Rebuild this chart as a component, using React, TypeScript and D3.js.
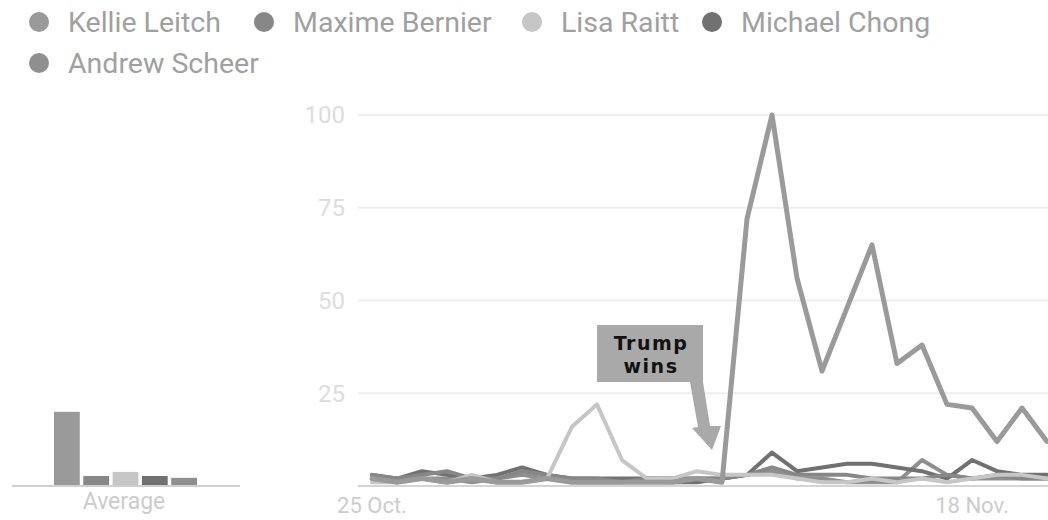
import React from "react";
import * as d3 from "d3";

const candidates = ["Kellie Leitch", "Maxime Bernier", "Lisa Raitt", "Michael Chong", "Andrew Scheer"];
const colors = ["#9a9a9a", "#878787", "#c6c6c6", "#717171", "#8f8f8f"];

const leitch = [2, 1, 2, 1, 2, 1, 1, 2, 1, 1, 1, 1, 1, 2, 1, 72, 100, 56, 31, 48, 65, 33, 38, 22, 21, 12, 21, 12];
const bernier = [3, 2, 3, 4, 2, 2, 4, 3, 2, 2, 1, 2, 2, 2, 2, 3, 5, 3, 3, 3, 2, 2, 2, 3, 2, 3, 2, 2];
const raitt = [1, 1, 2, 1, 3, 1, 1, 2, 16, 22, 7, 2, 2, 4, 3, 3, 3, 2, 1, 1, 2, 1, 2, 1, 2, 3, 3, 2];
const chong = [3, 2, 4, 3, 2, 3, 5, 3, 2, 2, 2, 2, 1, 1, 2, 3, 9, 4, 5, 6, 6, 5, 4, 2, 7, 4, 3, 3];
const scheer = [2, 2, 2, 2, 1, 2, 3, 2, 1, 1, 1, 2, 2, 2, 2, 3, 4, 2, 2, 1, 1, 1, 7, 3, 2, 2, 2, 2];
const series = [leitch, bernier, raitt, chong, scheer];

const averages = [20, 2.7, 3.8, 2.7, 2.2];

const yTicks = [25, 50, 75, 100];
const xTickDates = [new Date(2016, 9, 25), new Date(2016, 10, 18)];
const xTickLabels = ["25 Oct.", "18 Nov."];
const startDate = new Date(2016, 9, 25);

const annotationLines = ["Trump", "wins"];

const legendPos = [
  { x: 39, y: 22 },
  { x: 264, y: 22 },
  { x: 532, y: 22 },
  { x: 712, y: 22 },
  { x: 39, y: 63 },
];

export default function App() {
  const W = 1048;
  const H = 520;
  const days = series[0].map((_, i) => d3.timeDay.offset(startDate, i));
  const x = d3.scaleTime().domain([xTickDates[0], xTickDates[1]]).range([372, 972]);
  const y = d3.scaleLinear().domain([0, 100]).range([486, 115]);
  const line = d3
    .line<number>()
    .x((_, i) => x(days[i]))
    .y((v) => y(v));

  const xb = d3.scaleBand().domain(candidates).range([54, 197]).paddingInner(0.12);

  const drawOrder = [4, 3, 1, 2, 0];

  return (
    <div style={{ position: "fixed", left: 0, top: 0 }}>
      <svg width={W} height={H} style={{ display: "block", fontFamily: "Roboto, sans-serif" }}>
        <rect width={W} height={H} fill="#fff" />
        {/* legend */}
        {candidates.map((c, i) => (
          <g key={c}>
            <circle cx={legendPos[i].x} cy={legendPos[i].y} r={10} fill={colors[i]} />
            <text x={legendPos[i].x + 29} y={legendPos[i].y + 10} fontSize={28.5} fill="#a0a0a0">
              {c}
            </text>
          </g>
        ))}

        {/* average bars */}
        <line x1={12} x2={240} y1={y(0)} y2={y(0)} stroke="#cfcfcf" strokeWidth={2} />
        {averages.map((v, i) => (
          <rect
            key={i}
            x={xb(candidates[i])}
            width={xb.bandwidth()}
            y={y(v)}
            height={y(0) - y(v) - 1}
            fill={colors[i]}
          />
        ))}
        <text x={124} y={509} textAnchor="middle" fontSize={23} fill="#cccccc">
          Average
        </text>

        {/* grid */}
        {yTicks.map((t) => (
          <g key={t}>
            <line x1={358} x2={W} y1={y(t)} y2={y(t)} stroke="#eeeeee" strokeWidth={2} />
            <text x={345} y={y(t)} dy="0.35em" textAnchor="end" fontSize={24} fill="#dddddd">
              {t}
            </text>
          </g>
        ))}
        <line x1={358} x2={W} y1={y(0)} y2={y(0)} stroke="#d4d4d4" strokeWidth={2} />
        {xTickDates.map((d, i) => (
          <text key={i} x={x(d)} y={513} textAnchor="middle" fontSize={22} fill="#cccccc">
            {xTickLabels[i]}
          </text>
        ))}

        {/* lines */}
        {drawOrder.map((si) => (
          <path
            key={si}
            d={line(series[si]) || ""}
            fill="none"
            stroke={colors[si]}
            strokeWidth={si === 0 ? 5 : 4}
            strokeLinejoin="round"
            strokeLinecap="round"
          />
        ))}

        {/* annotation */}
        <rect x={597} y={325} width={106} height={57} fill="#a9a9a9" />
        <polygon points="690,382 703,382 710,426 721,426 712,450 692,428 698,427" fill="#a9a9a9" />
        {annotationLines.map((t, i) => (
          <text
            key={t}
            x={651}
            y={350 + i * 23}
            textAnchor="middle"
            fontSize={19}
            fontWeight="bold"
            letterSpacing={1.5}
            fontFamily="'DejaVu Sans', sans-serif"
            fill="#111"
          >
            {t}
          </text>
        ))}
      </svg>
    </div>
  );
}
